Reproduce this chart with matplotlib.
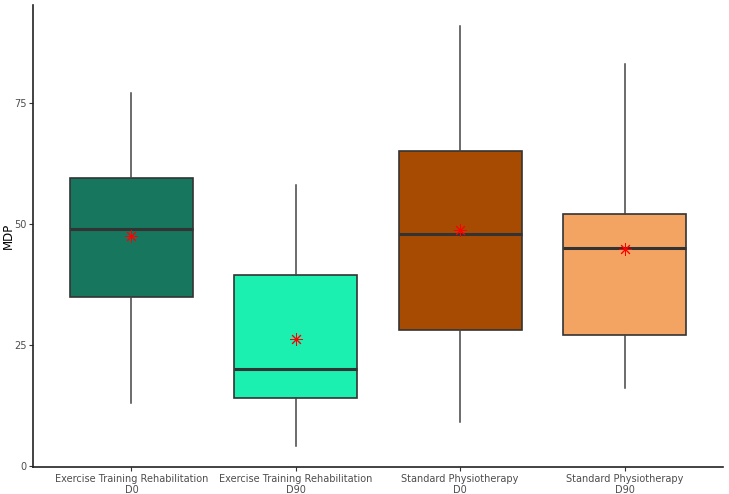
import matplotlib
matplotlib.use("Agg")
import matplotlib.pyplot as plt

groups = ["Exercise Training Rehabilitation\nD0", "Exercise Training Rehabilitation\nD90",
          "Standard Physiotherapy\nD0", "Standard Physiotherapy\nD90"]
whislo = [13, 4.1, 9, 16.2]
q1 = [35, 14, 28, 27]
med = [49, 20, 48, 45]
q3 = [59.5, 39.5, 65, 52]
whishi = [77, 58, 91, 83]
means = [47.6, 26.2, 48.7, 44.8]
colors = ["#17765E", "#1CF0B0", "#A84B02", "#F4A462"]

stats = []
for i in range(len(groups)):
    stats.append(dict(whislo=whislo[i], q1=q1[i], med=med[i], q3=q3[i],
                      whishi=whishi[i], mean=means[i], fliers=[]))

fig = plt.figure(figsize=(7.29, 4.94), dpi=100)
ax = fig.add_axes([0.045, 0.055, 0.947, 0.935])

pos = list(range(1, len(groups) + 1))
bp = ax.bxp(stats, positions=pos, widths=0.75, patch_artist=True, showcaps=False,
            showfliers=False, showmeans=True,
            boxprops=dict(edgecolor="#333333", linewidth=1.2),
            medianprops=dict(color="#333333", linewidth=2.2),
            whiskerprops=dict(color="#444444", linewidth=1.1),
            meanprops=dict(marker=(8, 2, 0), markeredgecolor="red", markerfacecolor="red",
                           markersize=9, markeredgewidth=0.7))
for patch, c in zip(bp["boxes"], colors):
    patch.set_facecolor(c)

ax.set_xlim(0.4, 4.6)
ax.set_ylim(-0.2, 95.3)
ax.set_yticks([0, 25, 50, 75])
ax.set_xticks(pos)
ax.set_xticklabels(groups, fontsize=7, color="#4D4D4D", linespacing=1.1)
ax.tick_params(axis="y", labelsize=7, labelcolor="#4D4D4D", length=3, color="#333333", pad=1.5)
ax.tick_params(axis="x", length=3, color="#333333", pad=2)
ax.set_ylabel("MDP", fontsize=8.5)
ax.yaxis.set_label_coords(-0.026, 0.5)
for s in ["top", "right"]:
    ax.spines[s].set_visible(False)
for s in ["left", "bottom"]:
    ax.spines[s].set_linewidth(1.2)
    ax.spines[s].set_color("#222222")

fig.savefig("out.png", dpi=100)
